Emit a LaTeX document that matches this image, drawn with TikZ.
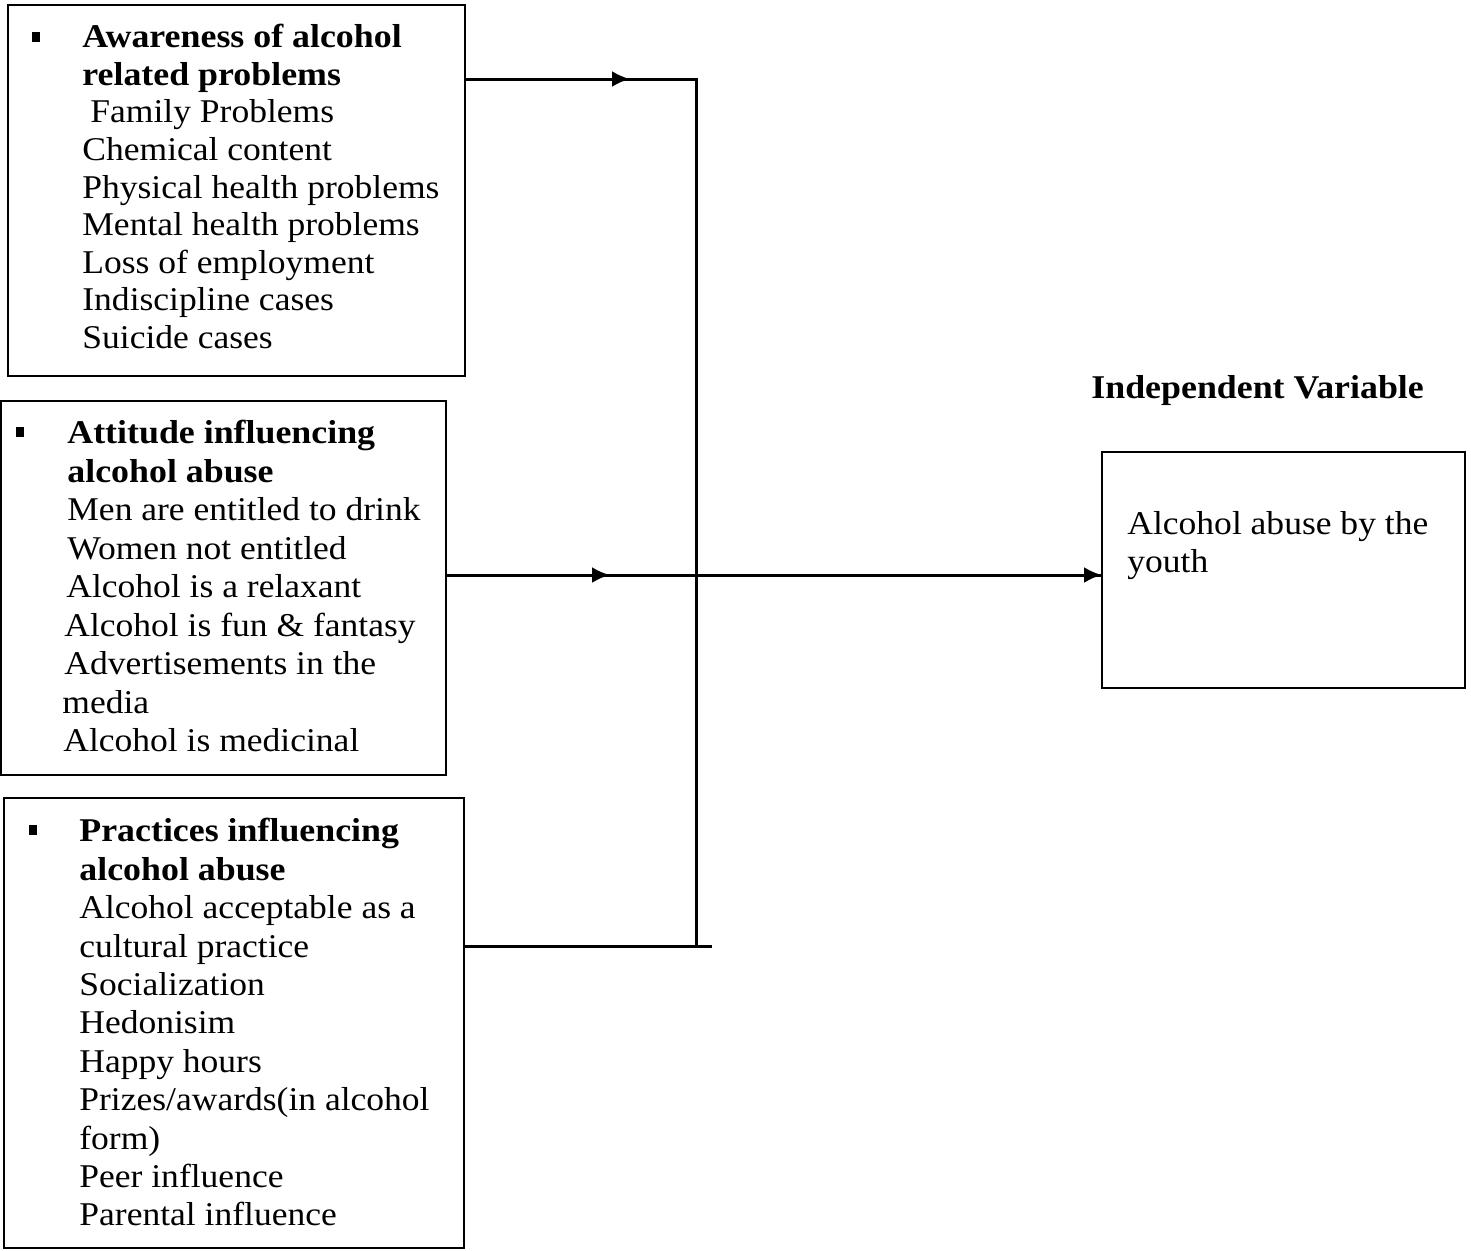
\documentclass[tikz,border=0pt]{standalone}
\usepackage{fontspec}
\setmainfont{Liberation Serif}[FakeStretch=1.07,BoldFeatures={FakeStretch=1.08}]
\usetikzlibrary{arrows.meta}
\begin{document}
\begin{tikzpicture}[x=0.5pt,y=-0.5pt,
  box/.style={draw, line width=1.1pt, inner sep=0pt, outer sep=0pt, rectangle},
  txt/.style={anchor=north west, inner sep=0pt, align=left},
  conn/.style={line width=1.5pt},
  arr/.style={conn, -{Latex[length=9pt,width=8pt]}},
  bul/.style={fill=black}]
\useasboundingbox (0,0) rectangle (1471,1250);

% boxes
\node[box, minimum width=228.5pt, minimum height=185.5pt] (b1) at (236.5,190.5) {};
\node[box, minimum width=222.75pt, minimum height=187pt] (b2) at (223.25,588) {};
\node[box, minimum width=230pt, minimum height=225pt] (b3) at (234,1023) {};
\node[box, minimum width=181.5pt, minimum height=118pt] (t) at (1283.5,570) {};

% bullets
\fill[bul] (32,32) rectangle (40,42);
\fill[bul] (16,427) rectangle (24,437);
\fill[bul] (29,825) rectangle (37,835);

% texts
\node[txt, font={\fontsize{16.6}{18.8}\selectfont}] (t1) at (82,24) {%
\textbf{Awareness of alcohol}\\
\textbf{related problems}\\
\hspace*{4pt}Family Problems\\
Chemical content\\
Physical health problems\\
Mental health problems\\
Loss of employment\\
Indiscipline cases\\
Suicide cases};

\node[txt, font={\fontsize{16.6}{19.25}\selectfont}] (t2) at (67,420) {%
\textbf{Attitude influencing}\\
\textbf{alcohol abuse}\\
Men are entitled to drink\\
Women not entitled\\
\hspace*{-0.5pt}Alcohol is a relaxant\\
\hspace*{-1.5pt}Alcohol is fun \& fantasy\\
\hspace*{-1.5pt}Advertisements in the\\
\hspace*{-2.5pt}media\\
\hspace*{-2pt}Alcohol is medicinal};

\node[txt, font={\fontsize{16.6}{19.2}\selectfont}] (t3) at (79,818) {%
\textbf{Practices influencing}\\
\textbf{alcohol abuse}\\
Alcohol acceptable as a\\
cultural practice\\
Socialization\\
Hedonisim\\
Happy hours\\
Prizes/awards(in alcohol\\
form)\\
Peer influence\\
Parental influence};

\node[txt, font={\fontsize{16.6}{19}\selectfont}] (t4) at (1127,511) {%
Alcohol abuse by the\\
youth};

\node[txt, font={\fontsize{16.6}{19}\selectfont\bfseries}] (iv) at (1091,375) {Independent Variable};

% connectors
\coordinate (a1) at (630,79);
\coordinate (j1) at (696,79);
\coordinate (j3) at (696,946);
\coordinate (e3) at (712,946);
\coordinate (a2) at (610,575);

\draw[conn] (b1.east |- a1) -- (j1) -- (j3);
\draw[arr] (b1.east |- a1) -- (a1);
\draw[conn] (b3.east |- e3) -- (e3);
\draw[conn] (b2.east |- a2) -- (t.west |- a2);
\draw[arr] (b2.east |- a2) -- (a2);
\draw[arr] (a2) -- (t.west |- a2);
\end{tikzpicture}
\end{document}
